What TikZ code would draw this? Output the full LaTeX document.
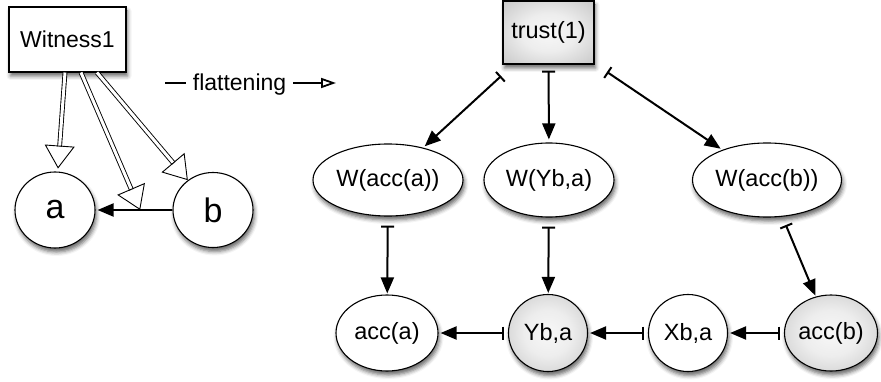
\documentclass[tikz,border=0pt]{standalone}
\usepackage{fontspec}
\setmainfont{Liberation Sans}
\usetikzlibrary{arrows.meta,shapes.geometric,shadows.blur,calc}
\pgfdeclareradialshading{softgray}{\pgfpoint{0bp}{0bp}}{color(0bp)=(black!3); color(15bp)=(black!7); color(50bp)=(black!32); color(72bp)=(black!42)}
\begin{document}
\begin{tikzpicture}[x=1pt,y=-1pt,
  shad/.style={blur shadow={shadow xshift=1.5pt, shadow yshift=-4pt, shadow blur radius=4pt, shadow opacity=60}},
  rbox/.style={rectangle, draw, line width=1.1pt, fill=white, shad, inner sep=0pt},
  ell/.style={ellipse, draw, line width=1.1pt, fill=white, shad, inner sep=0pt, font=\fontsize{23.5}{27}\selectfont},
  gshade/.style={shading=softgray},
  conn/.style={line width=2pt, -{Triangle[length=16pt,width=13pt]}, shorten >=2pt},
  barconn/.style={line width=2pt, {Bar[width=13pt,line width=2pt]}-{Triangle[length=16pt,width=13pt]}, shorten >=2pt},
  shaftw/.style={draw=black, double=white, double distance=3pt, line width=0.9pt},
  tipw/.style={draw=white, line width=0.2pt, -{Triangle[open, color=black, line width=0.9pt, length=23pt, width=30pt]}}
]
\useasboundingbox (0,0) rectangle (881,382);

% left part
\node[rbox, minimum width=117pt, minimum height=65pt, font=\fontsize{23}{26}\selectfont] (w) at (67.5,39.5) {Witness1};
\node[ell, minimum width=80pt, minimum height=76pt, font=\fontsize{34}{38}\selectfont] (a) at (55,210) {a};
\node[ell, minimum width=80pt, minimum height=75pt, font=\fontsize{34}{38}\selectfont] (b) at (213,210) {b};

\draw[conn] (b) -- (a);
\coordinate (m) at ($(b.west)!0.42!(a.east)$);
\coordinate (s1) at ($(w.south)+(-2.5,0)$);
\coordinate (s2) at ($(w.south)+(13.5,0)$);
\coordinate (s3) at ($(w.south)+(29.5,0)$);

\draw[shaftw, shorten >=25pt] (s1) -- (a);
\draw[tipw, shorten >=3pt] (s1) -- (a);
\draw[shaftw, shorten >=22pt] (s2) -- (m);
\draw[tipw] (s2) -- (m);
\draw[shaftw, shorten >=22pt] (s3) -- (b);
\draw[tipw] (s3) -- (b);

% flattening
\coordinate (f1) at (165,83);
\coordinate (f2) at (336,83);
\draw[line width=2pt, -{Triangle[open, length=15pt, width=10pt, line width=1.8pt]}] (f1) -- node[pos=0.436, fill=white, inner xsep=7pt, inner ysep=2pt, yshift=-2pt, font=\fontsize{23}{26}\selectfont] (fl) {flattening} (f2);

% right part
\node[rbox, gshade, minimum width=91pt, minimum height=63pt, font=\fontsize{23.5}{27}\selectfont] (t) at (548.5,32.5) {trust(1)};
\node[ell, minimum width=150pt, minimum height=72pt] (wa) at (388,180) {W(acc(a))};
\node[ell, minimum width=130pt, minimum height=74pt] (wy) at (549,180) {W(Yb,a)};
\node[ell, minimum width=149pt, minimum height=74pt] (wb) at (767,180) {W(acc(b))};
\node[ell, minimum width=102pt, minimum height=76pt] (aa) at (387,333) {acc(a)};
\node[ell, gshade, minimum width=79pt, minimum height=77pt] (ya) at (548,333) {Yb,a};
\node[ell, minimum width=79pt, minimum height=77pt] (xa) at (688,333) {Xb,a};
\node[ell, gshade, minimum width=93pt, minimum height=76pt] (ab) at (831,333) {acc(b)};

\draw[barconn, shorten <=17pt] (t) -- (wa);
\draw[barconn, shorten <=6pt, shorten >=3pt] (t) -- (wy);
\draw[barconn, shorten <=15pt] (t) -- (wb);
\draw[barconn, shorten <=9pt, shorten >=1pt] (wa) -- (aa);
\draw[barconn, shorten <=9pt, shorten >=1pt] (wy) -- (ya);
\draw[barconn, shorten <=9pt, shorten >=1pt] (wb) -- (ab);
\draw[barconn, shorten <=4pt] (ya) -- (aa);
\draw[barconn, shorten <=4pt] (xa) -- (ya);
\draw[barconn, shorten <=4pt] (ab) -- (xa);
\end{tikzpicture}
\end{document}
